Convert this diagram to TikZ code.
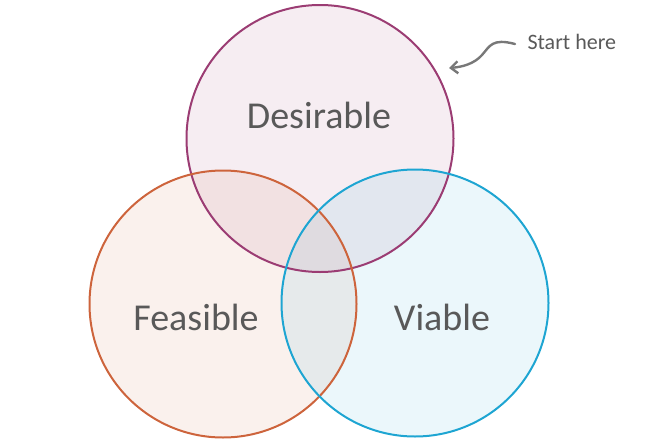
\documentclass[tikz,border=0pt]{standalone}
\usepackage{fontspec}
\setmainfont{Carlito}
\usetikzlibrary{arrows.meta}
\definecolor{desc}{RGB}{155,60,115}
\definecolor{feac}{RGB}{205,100,60}
\definecolor{viac}{RGB}{30,165,210}
\definecolor{txt}{RGB}{89,89,89}
\definecolor{arr}{RGB}{120,120,120}
\begin{document}
\begin{tikzpicture}[x=1pt,y=-1pt,
  venn/.style={circle, minimum size=267pt, inner sep=0pt, line width=2pt, fill opacity=0.09, draw opacity=1},
  lbl/.style={text=txt, font=\fontsize{38}{40}\selectfont},
  note/.style={text=txt, font=\fontsize{22}{24}\selectfont}]
\useasboundingbox (0,0) rectangle (656,442);
\node[venn, fill=desc] (desf) at (320,138.5) {};
\node[venn, fill=feac] (feaf) at (223,304) {};
\node[venn, fill=viac] (viaf) at (415,303) {};
\node[venn, draw=desc, fill=none] (des) at (320,138.5) {};
\node[venn, draw=feac, fill=none] (fea) at (223,304) {};
\node[venn, draw=viac, fill=none] (via) at (415,303) {};
\node[lbl] (dl) at (319,115) {Desirable};
\node[lbl] (fl) at (196,317) {Feasible};
\node[lbl] (vl) at (442,317) {Viable};
\node[note, anchor=west] (start) at (524,42) {Start here};
\coordinate (tip) at (449,68);
\draw[arr, line width=2.4pt, line cap=round, -{Straight Barb[length=7pt,width=12pt]}]
  ([xshift=-9pt,yshift=-2pt]start.west) .. controls (492,38) and (490,46) .. (482,55)
  .. controls (474,64) and (462,67) .. (tip);
\end{tikzpicture}
\end{document}
